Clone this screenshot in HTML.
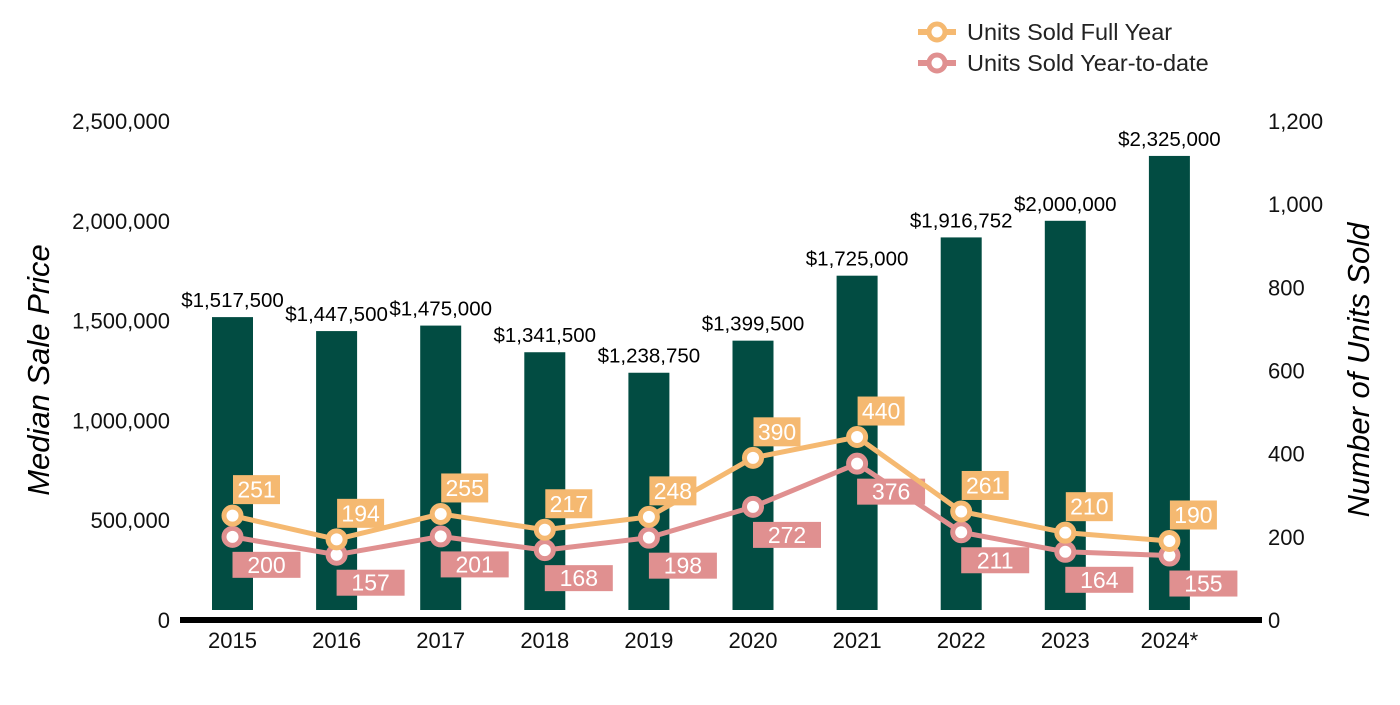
<!DOCTYPE html>
<html><head><meta charset="utf-8"><style>
body{margin:0;background:#fff;width:1400px;height:700px;overflow:hidden;font-family:"Liberation Sans",Arial,sans-serif}
</style></head><body>
<svg id="chart" width="1400" height="700" xmlns="http://www.w3.org/2000/svg" font-family="Liberation Sans, Arial, sans-serif">
<g id="legend">
 <g>
  <line x1="918" y1="32" x2="956" y2="32" stroke="#f5b971" stroke-width="6"/>
  <circle cx="937" cy="32" r="8" fill="#fff" stroke="#f5b971" stroke-width="5"/>
  <text x="967" y="40" font-size="23.5" fill="#222">Units Sold Full Year</text>
 </g>
 <g>
  <line x1="918" y1="63" x2="956" y2="63" stroke="#e09090" stroke-width="6"/>
  <circle cx="937" cy="63" r="8" fill="#fff" stroke="#e09090" stroke-width="5"/>
  <text x="967" y="71" font-size="23.5" fill="#222">Units Sold Year-to-date</text>
 </g>
</g>
<text transform="translate(49,370) rotate(-90)" text-anchor="middle" font-size="31" font-style="italic" fill="#000">Median Sale Price</text>
<text transform="translate(1369,370) rotate(-90)" text-anchor="middle" font-size="31" font-style="italic" fill="#000">Number of Units Sold</text>
<g id="plot"></g>
</svg>
<script>
const categories=["2015","2016","2017","2018","2019","2020","2021","2022","2023","2024*"];
const prices=[1517500,1447500,1475000,1341500,1238750,1399500,1725000,1916752,2000000,2325000];
const fullYear=[251,194,255,217,248,390,440,261,210,190];
const ytd=[200,157,201,168,198,272,376,211,164,155];
const leftTicks=[0,500000,1000000,1500000,2000000,2500000];
const rightTicks=[0,200,400,600,800,1000,1200];
const NS="http://www.w3.org/2000/svg";
const plot=document.getElementById('plot');
const x=i=>232.5+i*104.1;
const yL=v=>620-v/2500000*499;
const yR=v=>620-v/1200*499;
function mk(tag,attrs,parent){const e=document.createElementNS(NS,tag);for(const k in attrs)e.setAttribute(k,attrs[k]);(parent||plot).appendChild(e);return e;}
const fmt=v=>v.toLocaleString('en-US');
leftTicks.forEach(t=>{const e=mk('text',{x:170,y:yL(t)+8,'text-anchor':'end','font-size':22,fill:'#111'});e.textContent=fmt(t);

});
rightTicks.forEach(t=>{const e=mk('text',{x:1268,y:yR(t)+8,'font-size':22,fill:'#111'});e.textContent=fmt(t);

});
prices.forEach((p,i)=>{
 const b=mk('rect',{x:x(i)-20.5,y:yL(p),width:41,height:610-yL(p),fill:'#024c42'});
 
 
 const t=mk('text',{x:x(i),y:yL(p)-10,'text-anchor':'middle','font-size':20.5,fill:'#000'});t.textContent='$'+fmt(p);
 
 
});
const ax=mk('line',{x1:180,y1:620,x2:1262,y2:620,stroke:'#000','stroke-width':6});


categories.forEach((c,i)=>{const t=mk('text',{x:x(i),y:648,'text-anchor':'middle','font-size':22,fill:'#111'});t.textContent=c;

});
function series(vals,color,name,dx,dy){
 const pl=mk('polyline',{points:vals.map((v,i)=>x(i)+','+yR(v)).join(' '),fill:'none',stroke:color,'stroke-width':5,'stroke-linejoin':'round'});
 
 
 vals.forEach((v,i)=>{
  const c=mk('circle',{cx:x(i),cy:yR(v),r:8.5,fill:'#fff',stroke:color,'stroke-width':5});
  
  
 });
 vals.forEach((v,i)=>{
  const w=dy<0?47:68,h=dy<0?29:26,cx=x(i)+dx,cy=yR(v)+dy;
  const r=mk('rect',{x:cx-w/2,y:cy-h/2,width:w,height:h,fill:color});
  
  
  const t=mk('text',{x:cx,y:cy+8,'text-anchor':'middle','font-size':23,fill:'#fff'});t.textContent=v;
  
  
 });
}
series(ytd,'#e09090','ytd',34,28);
series(fullYear,'#f5b971','full-year',24,-26);
</script>
</body></html>
